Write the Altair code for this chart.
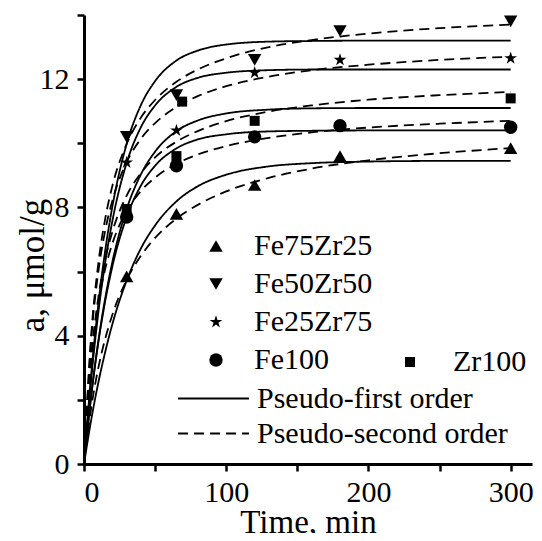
import altair as alt
import pandas as pd

# ---------------- data ----------------
SERIES = ["Fe75Zr25", "Fe50Zr50", "Fe25Zr75", "Fe100", "Zr100"]
STAR = ("M0,-1L0.2245,-0.309L0.951,-0.309L0.363,0.118L0.588,0.809L0,0.382"
        "L-0.588,0.809L-0.363,0.118L-0.951,-0.309L-0.2245,-0.309Z")
SHAPES = ["triangle-up", "triangle-down", STAR, "circle", "square"]
MODELS = ["Pseudo-first order", "Pseudo-second order"]

T_FIT = [0, 5, 10, 15, 20, 30, 40, 50, 65, 80, 100, 130, 160, 200, 250, 300]

PFO_FE75ZR25 = [0, 1.36, 2.52, 3.51, 4.37, 5.72, 6.72, 7.44, 8.19, 8.66, 9.02, 9.28, 9.38, 9.43, 9.45, 9.45]
PFO_FE50ZR50 = [0, 2.76, 4.95, 6.68, 8.04, 9.98, 11.19, 11.94, 12.58, 12.89, 13.08, 13.17, 13.19, 13.2, 13.2, 13.2]
PFO_FE25ZR75 = [0, 2.62, 4.69, 6.31, 7.59, 9.39, 10.50, 11.18, 11.76, 12.04, 12.20, 12.28, 12.3, 12.3, 12.3, 12.3]
PFO_FE100 = [0, 2.10, 3.77, 5.10, 6.17, 7.70, 8.68, 9.30, 9.84, 10.12, 10.28, 10.37, 10.39, 10.4, 10.4, 10.4]
PFO_ZR100 = [0, 2.10, 3.81, 5.19, 6.31, 7.95, 9.03, 9.74, 10.38, 10.71, 10.93, 11.05, 11.09, 11.1, 11.1, 11.1]

PSO_FE75ZR25 = [0, 1.73, 2.98, 3.92, 4.66, 5.74, 6.49, 7.05, 7.65, 8.08, 8.50, 8.92, 9.21, 9.47, 9.69, 9.85]
PSO_FE50ZR50 = [0, 3.98, 6.23, 7.67, 8.68, 9.98, 10.80, 11.35, 11.92, 12.30, 12.65, 13.00, 13.22, 13.42, 13.59, 13.70]
PSO_FE25ZR75 = [0, 3.85, 5.97, 7.30, 8.22, 9.41, 10.14, 10.63, 11.13, 11.47, 11.78, 12.08, 12.28, 12.45, 12.60, 12.70]
PSO_FE100 = [0, 3.21, 4.98, 6.10, 6.88, 7.89, 8.51, 8.93, 9.36, 9.65, 9.91, 10.17, 10.34, 10.49, 10.61, 10.70]
PSO_ZR100 = [0, 3.29, 5.17, 6.40, 7.25, 8.37, 9.07, 9.56, 10.05, 10.38, 10.69, 10.99, 11.18, 11.36, 11.50, 11.60]

T_PTS = [30, 65, 120, 180, 300]
PTS_FE75ZR25 = [5.85, 7.8, 8.7, 9.6, 9.85]
PTS_FE50ZR50 = [10.2, 11.5, 12.6, 13.5, 13.8]
PTS_FE25ZR75 = [9.4, 10.4, 12.2, 12.6, 12.65]
PTS_FE100 = [7.7, 9.3, 10.2, 10.55, 10.5]
T_PTS_ZR100 = [30, 65, 69, 120, 300]
PTS_ZR100 = [7.95, 9.6, 11.3, 10.7, 11.4]

X_TICKS = [0, 50, 100, 150, 200, 250, 300]
Y_TICKS = [0, 2, 4, 6, 8, 10, 12, 14]

# ---------------- tables ----------------
pfo = dict(zip(SERIES, [PFO_FE75ZR25, PFO_FE50ZR50, PFO_FE25ZR75, PFO_FE100, PFO_ZR100]))
pso = dict(zip(SERIES, [PSO_FE75ZR25, PSO_FE50ZR50, PSO_FE25ZR75, PSO_FE100, PSO_ZR100]))
r1, r2 = [], []
for s in SERIES:
    for t, v in zip(T_FIT, pfo[s]):
        r1.append({"series": s, "model": MODELS[0], "t": t, "a": v})
    for t, v in zip(T_FIT, pso[s]):
        r2.append({"series": s, "model": MODELS[1], "t": t, "a": v})
pfo_df = pd.DataFrame(r1)
pso_df = pd.DataFrame(r2)

prow = []
for s, vals in zip(SERIES[:4], [PTS_FE75ZR25, PTS_FE50ZR50, PTS_FE25ZR75, PTS_FE100]):
    for t, v in zip(T_PTS, vals):
        prow.append({"series": s, "t": t, "a": v})
pts4_df = pd.DataFrame(prow)
ptsz_df = pd.DataFrame({"series": ["Zr100"] * len(T_PTS_ZR100), "t": T_PTS_ZR100, "a": PTS_ZR100})

FONT = "Liberation Serif"
xscale = alt.Scale(domain=[0, 315], nice=False, zero=False)
yscale = alt.Scale(domain=[0, 14], nice=False)

xaxis = alt.Axis(
    values=X_TICKS, labelExpr="datum.value % 100 === 0 ? datum.label : ''",
    tickSize=7, orient="bottom",
    title="Time, min", titleY=42, titleBaseline="top", labelPadding=6, grid=False,
)
yaxis = alt.Axis(
    values=Y_TICKS, labelExpr="datum.value % 4 === 0 ? datum.label : ''",
    tickSize=7, orient="left",
    title="a, μmol/g", titleAngle=270, titleX=-52, titleY=250, titleBaseline="middle",
    titleAlign="center", titleFontSize=35, labelPadding=8, grid=False,
)

X = alt.X("t:Q", scale=xscale, axis=xaxis)
Y = alt.Y("a:Q", scale=yscale, axis=yaxis)


def line_layer(df, model, dash, legend_y):
    return alt.Chart(df).mark_line(color="black", strokeWidth=1.8, interpolate="monotone").encode(
        x=X, y=Y, detail="series:N",
        strokeDash=alt.StrokeDash(
            "model:N", scale=alt.Scale(domain=[model], range=[dash]),
            legend=alt.Legend(
                title=None, orient="none", legendX=93, legendY=legend_y, symbolType="stroke",
                symbolSize=5041, symbolStrokeWidth=1.8, symbolStrokeColor="black",
                labelOffset=7, labelFont=FONT,
            ),
        ),
    )


lines1 = line_layer(pfo_df, MODELS[0], [1, 0], 347)
lines2 = line_layer(pso_df, MODELS[1], [10, 6], 382)

pts4 = alt.Chart(pts4_df).mark_point(filled=True, color="black", opacity=1, size=180).encode(
    x=X, y=Y,
    shape=alt.Shape(
        "series:N", scale=alt.Scale(domain=SERIES[:4], range=SHAPES[:4]),
        legend=alt.Legend(
            title=None, orient="none", legendX=117, legendY=216, symbolSize=180,
            symbolFillColor="black", symbolStrokeColor="black", symbolOpacity=1,
            labelOffset=23, rowPadding=8, labelFont=FONT,
        ),
    ),
)

ptsz = alt.Chart(ptsz_df).mark_point(filled=True, color="black", opacity=1, size=100).encode(
    x=X, y=Y,
    shape=alt.Shape(
        "series:N", scale=alt.Scale(domain=SERIES[4:], range=SHAPES[4:]),
        legend=alt.Legend(
            title=None, orient="none", legendX=311, legendY=332, symbolSize=100,
            symbolFillColor="black", symbolStrokeColor="black", symbolOpacity=1,
            labelOffset=28, labelFont=FONT,
        ),
    ),
)

chart = (
    alt.layer(lines1, lines2, pts4, ptsz)
    .resolve_scale(shape="independent", strokeDash="independent")
    .properties(
        width=448, height=449, autosize=alt.AutoSizeParams(type="none"),
        padding={"left": 76, "top": 7, "right": 2, "bottom": 69},
        background="white",
    )
    .configure(font=FONT)
    .configure_view(stroke="transparent")
    .configure_axis(
        domainColor="black", domainWidth=3, tickColor="black", tickWidth=2.5,
        labelFont=FONT, labelFontSize=30, labelColor="black",
        titleFont=FONT, titleFontSize=33, titleColor="black", titleFontWeight="normal",
    )
    .configure_legend(
        labelFont=FONT, labelFontSize=30, labelColor="black", labelLimit=400, padding=0,
    )
)

chart.save("out.html", embed_options={"renderer": "svg", "actions": False})
